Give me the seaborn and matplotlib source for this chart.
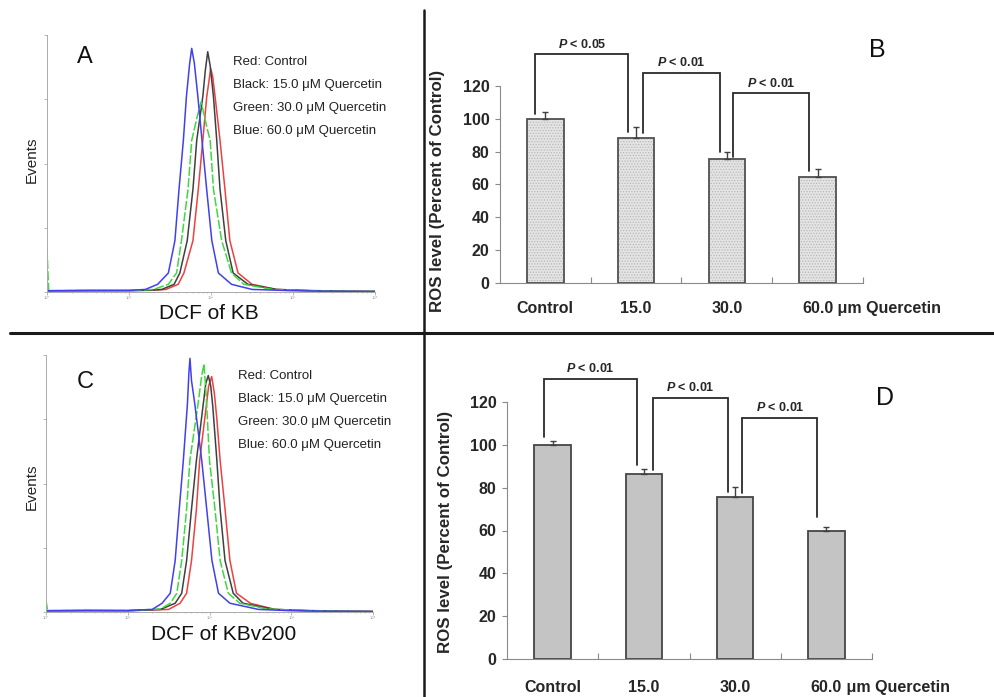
import numpy as np
import seaborn as sns
import matplotlib.pyplot as plt
from matplotlib.lines import Line2D
from matplotlib.patches import Rectangle

# ---- bar chart data: ROS level (percent of control) ----
groups = ["Control", "15.0", "30.0", "60.0"]
ros_kb = [100, 88.5, 75.3, 64.3]
ros_kb_err = [4.0, 6.5, 4.2, 5.0]
ros_kbv = [100, 86.6, 75.6, 60.0]
ros_kbv_err = [1.8, 2.1, 4.5, 1.7]

# significance brackets: (x left, x right), (y left leg, y right leg, y top), label
p_kb = ["0.05", "0.01", "0.01"]
br_kb_x = [(-0.11, 0.915), (1.08, 1.92), (2.07, 2.9)]
br_kb_y = [(103, 92, 139.5), (91.4, 79.8, 128), (76.7, 68.2, 115.7)]
p_kbv = ["0.01", "0.01", "0.01"]
br_kbv_x = [(-0.1, 0.92), (1.1, 1.92), (2.08, 2.9)]
br_kbv_y = [(103.8, 90.7, 130.9), (88.4, 78, 122), (77.6, 66.4, 112.7)]

# ---- flow cytometry histograms: log10(DCF) vs events (% of axis max) ----
kb_red_x = [0.0, 0.5, 1.0, 1.3, 1.45, 1.6, 1.67, 1.78, 1.845, 1.9, 1.948, 1.975, 1.996, 2.02, 2.05, 2.11, 2.17, 2.23, 2.33, 2.5, 2.8, 3.2, 3.6, 4.0]
kb_red_y = [0.4, 0.6, 0.5, 0.7, 1.0, 3.0, 7.4, 20, 40, 59, 76, 82, 87, 84, 76, 59, 40, 20, 7.4, 3.0, 1.0, 0.6, 0.3, 0.2]
kb_black_x = [0.0, 0.5, 1.0, 1.25, 1.4, 1.55, 1.62, 1.71, 1.78, 1.826, 1.9, 1.93, 1.96, 1.99, 2.03, 2.07, 2.11, 2.18, 2.27, 2.45, 2.8, 3.2, 3.6, 4.0]
kb_black_y = [0.5, 0.5, 0.6, 0.7, 1.0, 3.0, 7.4, 20, 40, 59, 76, 86, 93.5, 88, 76, 59, 40, 20, 7.4, 3.0, 1.0, 0.5, 0.3, 0.2]
kb_green_x = [0.0, 0.02, 0.5, 1.0, 1.3, 1.48, 1.58, 1.64, 1.72, 1.765, 1.83, 1.88, 1.95, 1.99, 2.03, 2.13, 2.25, 2.4, 2.75, 3.2, 3.6, 4.0]
kb_green_y = [17, 0.5, 0.6, 0.5, 1.0, 3.0, 7.4, 20, 40, 59, 68, 74, 64, 59, 40, 20, 7.4, 3.0, 1.0, 0.5, 0.3, 0.2]
kb_blue_x = [0.0, 0.5, 1.0, 1.2, 1.35, 1.48, 1.56, 1.61, 1.663, 1.70, 1.74, 1.765, 1.797, 1.84, 1.89, 1.947, 2.01, 2.09, 2.25, 2.5, 3.0, 3.5, 4.0]
kb_blue_y = [0.5, 0.6, 0.6, 1.0, 3.0, 7.4, 20, 40, 59, 76, 89, 94.8, 89, 76, 59, 40, 20, 7.4, 3.0, 1.0, 0.5, 0.3, 0.2]

kbv_red_x = [0.0, 0.5, 1.0, 1.5, 1.64, 1.72, 1.78, 1.84, 1.88, 1.96, 1.99, 2.027, 2.06, 2.09, 2.13, 2.19, 2.25, 2.33, 2.5, 2.8, 3.2, 3.6, 4.0]
kbv_red_y = [0.4, 0.5, 0.5, 1.0, 3.4, 7.3, 20, 40, 59, 80, 88, 91.6, 85, 75, 59, 40, 20, 7.3, 3.4, 1.0, 0.6, 0.3, 0.2]
kbv_black_x = [0.0, 0.5, 1.0, 1.4, 1.58, 1.66, 1.72, 1.78, 1.84, 1.92, 1.955, 1.985, 2.015, 2.04, 2.09, 2.13, 2.19, 2.29, 2.41, 2.8, 3.2, 3.6, 4.0]
kbv_black_y = [0.5, 0.6, 0.5, 1.0, 3.4, 7.3, 20, 40, 59, 80, 89, 92, 88, 80, 59, 40, 20, 7.3, 3.4, 1.0, 0.5, 0.3, 0.2]
kbv_green_x = [0.0, 0.02, 0.5, 1.0, 1.4, 1.52, 1.6, 1.66, 1.72, 1.76, 1.86, 1.905, 1.933, 1.96, 2.0, 2.067, 2.13, 2.23, 2.37, 2.7, 3.2, 3.6, 4.0]
kbv_green_y = [4.5, 0.5, 0.6, 0.5, 1.2, 3.4, 7.3, 20, 40, 59, 81, 92, 96.5, 84, 59, 40, 20, 7.3, 3.4, 1.2, 0.5, 0.3, 0.2]
kbv_blue_x = [0.0, 0.5, 1.0, 1.3, 1.42, 1.52, 1.58, 1.63, 1.68, 1.73, 1.748, 1.761, 1.78, 1.82, 1.905, 1.966, 2.03, 2.11, 2.25, 2.6, 3.0, 3.5, 4.0]
kbv_blue_y = [0.5, 0.6, 0.6, 1.0, 3.4, 7.3, 20, 40, 59, 81, 93, 98.7, 90, 81, 59, 40, 20, 7.3, 3.4, 1.0, 0.5, 0.3, 0.2]

legend_lines = ["Red: Control", "Black: 15.0 \u03bcM Quercetin",
                "Green: 30.0 \u03bcM Quercetin", "Blue: 60.0 \u03bcM Quercetin"]

sns.set_style("ticks")
plt.rcParams['font.family'] = ['Liberation Sans', 'DejaVu Sans']
plt.rcParams['mathtext.fontset'] = 'custom'
plt.rcParams['mathtext.bfit'] = 'Liberation Sans:italic:bold'
plt.rcParams['hatch.linewidth'] = 0.6

W, H = 995, 697
fig = plt.figure(figsize=(W / 100, H / 100), dpi=100)


def rect(l, t, r, b):
    return [l / W, 1 - b / H, (r - l) / W, (b - t) / H]


def hist_panel(box, curves, letter, xlabel, letter_pos, leg_pos, ev_pos, xl_pos):
    ax = fig.add_axes(rect(*box))
    for lx, ly, color, ls in curves:
        sns.lineplot(x=10 ** np.array(lx), y=ly, ax=ax, color=color, lw=1.1,
                     linestyle=ls, sort=False, estimator=None)
    ax.set_xscale('log')
    ax.set_xlim(1, 1e4)
    ax.set_ylim(0, 100)
    ax.set_yticks([0, 25, 50, 75, 100])
    ax.set_yticklabels([])
    ax.set_xticks([1, 10, 100, 1000, 10000])
    ax.set_xticklabels(["10\u2070", "10\u00b9", "10\u00b2", "10\u00b3", "10\u2074"],
                       fontsize=3, color='#999')
    ax.tick_params(axis='both', which='major', length=2, width=0.5, color='#999', pad=1)
    ax.tick_params(axis='x', which='minor', length=1, width=0.4, color='#999')
    for s in ['top', 'right']:
        ax.spines[s].set_visible(False)
    for s in ['left', 'bottom']:
        ax.spines[s].set_color('#aaa')
        ax.spines[s].set_linewidth(0.7)
    ax.set_xlabel("")
    ax.set_ylabel("")
    fig.text(letter_pos[0] / W, 1 - letter_pos[1] / H, letter, fontsize=17,
             ha='center', va='center', color='#111')
    for i, t in enumerate(legend_lines):
        fig.text(leg_pos[0] / W, 1 - (leg_pos[1] + i * 23) / H, t, fontsize=9.5,
                 ha='left', va='center', color='#222')
    fig.text(ev_pos[0] / W, 1 - ev_pos[1] / H, "Events", fontsize=11, rotation=90,
             ha='center', va='center', color='#222')
    fig.text(xl_pos[0] / W, 1 - xl_pos[1] / H, xlabel, fontsize=15,
             ha='center', va='center', color='#111')
    return ax


green_ls = (0, (6, 1.5))
hist_panel((47, 35, 375, 292),
           [(kb_red_x, kb_red_y, '#ee4040', '-'),
            (kb_black_x, kb_black_y, '#404040', '-'),
            (kb_green_x, kb_green_y, '#40d840', green_ls),
            (kb_blue_x, kb_blue_y, '#4040ee', '-')],
           "A", "DCF of KB", (85, 57), (233, 62), (32, 160), (209, 314))
hist_panel((46, 355, 373, 612),
           [(kbv_red_x, kbv_red_y, '#ee4040', '-'),
            (kbv_black_x, kbv_black_y, '#404040', '-'),
            (kbv_green_x, kbv_green_y, '#40d840', green_ls),
            (kbv_blue_x, kbv_blue_y, '#4040ee', '-')],
           "C", "DCF of KBv200", (85, 382), (238, 376), (32, 487), (224, 635))


def bar_panel(box, vals, errs, br_x, br_y, pvals, face, hatch, letter, letter_pos,
              ylab_xy, xpad):
    ax = fig.add_axes(rect(*box))
    if hatch:
        sns.barplot(x=groups, y=vals, ax=ax, color=face, saturation=1, width=0.4,
                    errorbar=None, edgecolor='#b8b8b8', linewidth=0, hatch=hatch)
        for p in list(ax.patches):
            ax.add_patch(Rectangle(p.get_xy(), p.get_width(), p.get_height(),
                                   fill=False, ec='#505050', lw=1.3, zorder=3))
    else:
        sns.barplot(x=groups, y=vals, ax=ax, color=face, saturation=1, width=0.4,
                    errorbar=None, edgecolor='#454545', linewidth=1.3)
    xs = np.arange(len(groups))
    ax.errorbar(xs, vals, yerr=[np.zeros(len(vals)), errs], fmt='none',
                ecolor='#404040', elinewidth=1, capsize=2.2, capthick=1, zorder=4)
    for (x1, x2), (y1, y2, yt), p in zip(br_x, br_y, pvals):
        ax.plot([x1, x1, x2, x2], [y1, yt, yt, y2], color='#2a2a2a', lw=1.3,
                clip_on=False, solid_joinstyle='miter')
        ax.annotate(r"$\mathbfit{P}$ < " + p, xy=((x1 + x2) / 2, yt),
                    xytext=(0, 2.5), textcoords='offset points', ha='center',
                    va='bottom', fontsize=9, fontweight='bold', annotation_clip=False)
    ax.set_xlim(-0.5, 3.5)
    ax.set_ylim(0, 120)
    ax.set_yticks(range(0, 121, 20))
    ax.set_xticks(xs)
    ax.set_xticklabels(groups, fontsize=11.5, fontweight='bold')
    for lab in ax.get_yticklabels():
        lab.set_fontsize(11.5)
        lab.set_fontweight('bold')
    ax.set_xticks([0.5, 1.5, 2.5, 3.5], minor=True)
    ax.tick_params(axis='x', which='major', length=0, pad=xpad)
    ax.tick_params(axis='x', which='minor', length=4, direction='in', color='#888', width=0.8)
    ax.tick_params(axis='y', length=3.5, color='#888', width=0.8, pad=4)
    for s in ['top', 'right']:
        ax.spines[s].set_visible(False)
    for s in ['left', 'bottom']:
        ax.spines[s].set_color('#8a8a8a')
        ax.spines[s].set_linewidth(0.8)
    ax.set_xlabel("")
    ax.set_ylabel("ROS level (Percent of Control)", fontsize=12.2, fontweight='bold')
    ax.yaxis.set_label_coords(*ylab_xy)
    last = ax.get_xticklabels()[-1]
    ax.annotate(" \u03bcm Quercetin", xy=(1, 0.5), xycoords=last, ha='left', va='center',
                fontsize=11.5, fontweight='bold', annotation_clip=False)
    fig.text(letter_pos[0] / W, 1 - letter_pos[1] / H, letter, fontsize=18,
             ha='center', va='center', color='#111')
    return ax


bar_panel((500, 86, 863, 283), ros_kb, ros_kb_err, br_kb_x, br_kb_y, p_kb,
          '#e4e4e4', '......', "B", (877, 50), (-0.151, 0.467), 13)
bar_panel((507, 402, 872, 659), ros_kbv, ros_kbv_err, br_kbv_x, br_kbv_y, p_kbv,
          '#c4c4c4', None, "D", (885, 398), (-0.148, 0.496), 15)

# panel dividers
fig.add_artist(Line2D([424 / W, 424 / W], [1 - 10 / H, 0], transform=fig.transFigure,
                      color='#1a1a1a', lw=1.8))
fig.add_artist(Line2D([10 / W, 1], [1 - 333 / H, 1 - 333 / H], transform=fig.transFigure,
                      color='#1a1a1a', lw=2.2))

plt.savefig("out.png", dpi=100)
